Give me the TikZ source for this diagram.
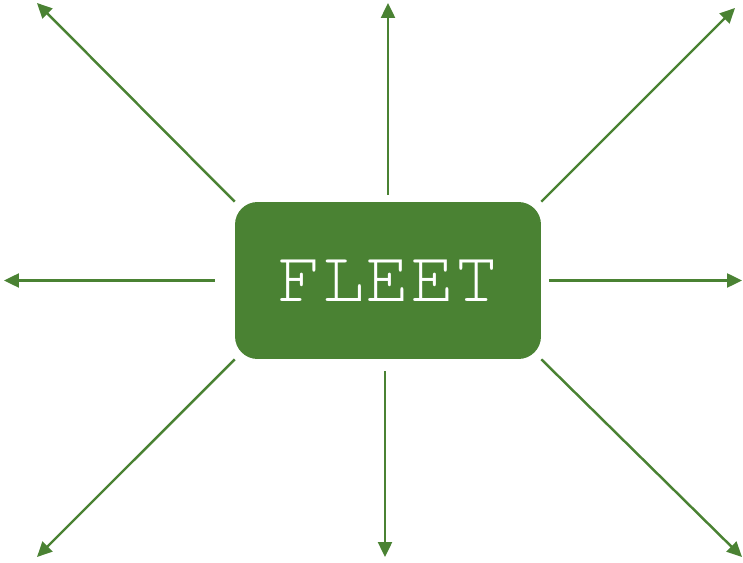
\documentclass[tikz,border=0pt]{standalone}
\usepackage[T1]{fontenc}
\usepackage{tikz}
\usetikzlibrary{arrows.meta, calc}
\definecolor{fleetgreen}{HTML}{4A8233}

\begin{document}
\begin{tikzpicture}[x=0.02cm, y=-0.02cm]
    \useasboundingbox (0,0) rectangle (743,563);
    \tikzset{spoke/.style={fleetgreen, line width=1.4pt, -{Triangle[length=0.3cm, width=0.28cm]}}}
    \node[fill=fleetgreen, rounded corners=0.45cm, minimum width=6.12cm, minimum height=3.14cm, inner sep=0pt,
          text=white, font=\fontencoding{T1}\fontfamily{pcr}\fontsize{42}{42}\selectfont] (fleet) at (388,280.5) {FLEET};
    \coordinate (nw) at (37,3);
    \coordinate (n) at (388,3);
    \coordinate (ne) at (735,8);
    \coordinate (w) at (4,280.5);
    \coordinate (e) at (742,280.5);
    \coordinate (sw) at (37,557);
    \coordinate (s) at (385,557);
    \coordinate (se) at (742,557);
    \draw[spoke] (fleet.north west) -- (nw);
    \draw[spoke, shorten <=0.14cm] (fleet.north) -- (n);
    \draw[spoke] (fleet.north east) -- (ne);
    \draw[spoke, shorten <=0.4cm] (fleet.west) -- (w);
    \draw[spoke, shorten <=0.16cm] (fleet.east) -- (e);
    \draw[spoke] (fleet.south west) -- (sw);
    \draw[spoke, shorten <=0.24cm] (fleet.south -| s) -- (s);
    \draw[spoke] (fleet.south east) -- (se);
\end{tikzpicture}
\end{document}
